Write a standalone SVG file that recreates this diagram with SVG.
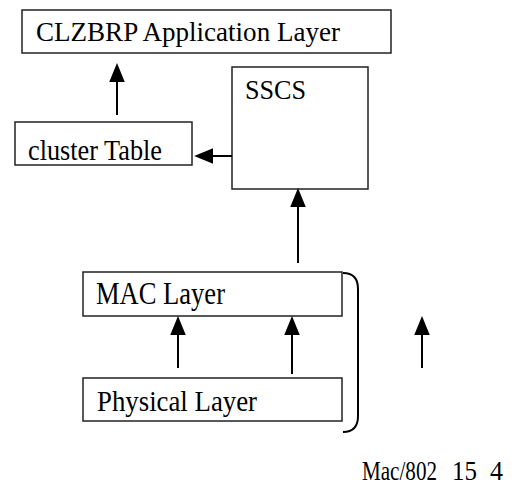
<svg xmlns="http://www.w3.org/2000/svg" width="512" height="492" viewBox="0 0 512 492">
<style>
.box{fill:#fff;stroke:#222;stroke-width:1.5}
.lbl{font-family:"Liberation Serif","Times New Roman",serif;font-size:26px;fill:#000}
.conn{stroke:#000;stroke-width:2;fill:none}
</style>
<defs>
<marker id="ah" markerUnits="userSpaceOnUse" markerWidth="20" markerHeight="16" refX="0" refY="7" orient="auto" viewBox="0 0 18 14">
<path d="M0,0 L17,7 L0,14 z" fill="#000"/>
</marker>
</defs>
<rect width="512" height="492" fill="#fff"/>
<g id="app">
<rect class="box" x="22" y="10" width="369" height="43"/>
<text class="lbl" transform="translate(36,41) scale(1,1.08)" textLength="304" lengthAdjust="spacingAndGlyphs">CLZBRP Application Layer</text>
</g>
<g id="cluster">
<rect class="box" x="15" y="122" width="177" height="43"/>
<text class="lbl" transform="translate(28,160) scale(1,1.15)" textLength="134" lengthAdjust="spacingAndGlyphs">cluster Table</text>
</g>
<g id="sscs">
<rect class="box" x="232" y="67" width="136" height="122"/>
<text class="lbl" transform="translate(245,99) scale(1,1.05)" textLength="61" lengthAdjust="spacingAndGlyphs">SSCS</text>
</g>
<g id="mac">
<rect class="box" x="83" y="272" width="259" height="44"/>
<text class="lbl" transform="translate(96,304) scale(1,1.2)" textLength="129" lengthAdjust="spacingAndGlyphs">MAC Layer</text>
</g>
<g id="phy">
<rect class="box" x="83" y="378" width="259" height="43"/>
<text class="lbl" transform="translate(97,411) scale(1,1.15)" textLength="160" lengthAdjust="spacingAndGlyphs">Physical Layer</text>
</g>
<g id="bracket">
<path class="conn" d="M343,273 Q358,273 358,289 L358,416 Q358,432 343,432"/>
</g>
<g id="note">
<text class="lbl" transform="translate(0,480) scale(1,1.05)"><tspan x="362" textLength="75" lengthAdjust="spacingAndGlyphs">Mac/802</tspan><tspan x="452" textLength="25" lengthAdjust="spacingAndGlyphs">15</tspan><tspan x="490" textLength="13" lengthAdjust="spacingAndGlyphs">4</tspan></text>
</g>
<g id="connectors">
<line class="conn" x1="117" y1="115" x2="117" y2="82" marker-end="url(#ah)"/>
<line class="conn" x1="232" y1="156" x2="213" y2="156" marker-end="url(#ah)"/>
<line class="conn" x1="298" y1="263" x2="298" y2="207" marker-end="url(#ah)"/>
<line class="conn" x1="178" y1="368" x2="178" y2="335" marker-end="url(#ah)"/>
<line class="conn" x1="292" y1="374" x2="292" y2="335" marker-end="url(#ah)"/>
<line class="conn" x1="422" y1="368" x2="422" y2="335" marker-end="url(#ah)"/>
</g>
</svg>
